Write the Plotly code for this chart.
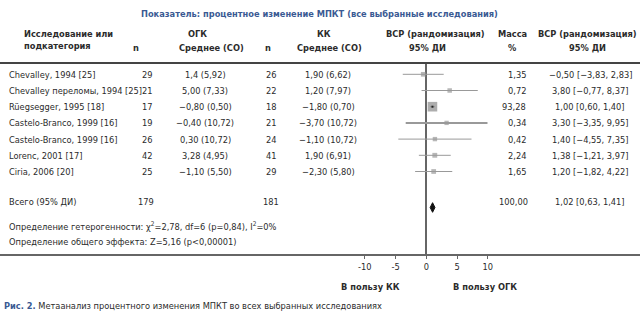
import plotly.graph_objects as go

W, H = 640, 322

# ---------------- data ----------------
studies = ["Chevalley, 1994 [25]", "Chevalley переломы, 1994 [25]", "Rüegsegger, 1995 [18]",
           "Castelo-Branco, 1999 [16]", "Castelo-Branco, 1999 [16]", "Lorenc, 2001 [17]", "Ciria, 2006 [20]"]
n_ogk = [29, 21, 17, 19, 26, 42, 25]
mean_ogk = ["1,4 (5,92)", "5,00 (7,33)", "−0,80 (0,50)", "−0,40 (10,72)", "0,30 (10,72)", "3,28 (4,95)", "−1,10 (5,50)"]
n_kk = [26, 22, 18, 21, 24, 41, 29]
mean_kk = ["1,90 (6,62)", "1,20 (7,97)", "−1,80 (0,70)", "−3,70 (10,72)", "−1,10 (10,72)", "1,90 (6,91)", "−2,30 (5,80)"]
md = [-0.50, 3.80, 1.00, 3.30, 1.40, 1.38, 1.20]
ci_lo = [-3.83, -0.77, 0.60, -3.35, -4.55, -1.21, -1.82]
ci_hi = [2.83, 8.37, 1.40, 9.95, 7.35, 3.97, 4.22]
weight = [1.35, 0.72, 93.28, 0.34, 0.42, 2.24, 1.65]

total_n_ogk = 179
total_n_kk = 181
total_md = 1.02
total_lo = 0.63
total_hi = 1.41
total_weight = 100.00

tick_vals = [-10, -5, 0, 5, 10]
tick_text = ["-10", "-5", "0", "5", "10"]

title = "Показатель: процентное изменение МПКТ (все выбранные исследования)"
heterogeneity = "Определение гетерогенности: χ<sup>2</sup>=2,78, df=6 (p=0,84), I<sup>2</sup>=0%"
overall = "Определение общего эффекта: Z=5,16 (p<0,00001)"
favours_left = "В пользу КК"
favours_right = "В пользу ОГК"
caption_label = "Рис. 2."
caption = "Метаанализ процентного изменения МПКТ во всех выбранных исследованиях"

# ---------------- layout helpers ----------------
FONT = "DejaVu Sans Condensed, Liberation Sans, sans-serif"
FS = 9.2
TXT = "#2b2b2b"
BLUE = "#3a5a93"
GRAY = "#999999"


def fmt(v):
    return f"{v:.2f}".replace(".", ",").replace("-", "−")


def px_x(p):
    return p / W


def px_y(p):
    return 1 - p / H


y0, step = 74.3, 16.2          # pixel position of first row, row spacing
plot_top, plot_bottom = 64, 254
zero_px, unit_px = 426.3, 6.15
x_range = [-zero_px / unit_px, (W - zero_px) / unit_px]
y_range = [(plot_bottom - y0) / step, (plot_top - y0) / step]
rows = list(range(len(studies)))
total_row = (202 - y0) / step
diamond_row = (207.5 - y0) / step
dh = 4.8 / step

fig = go.Figure()

# confidence intervals
for i in rows:
    fig.add_trace(go.Scatter(x=[ci_lo[i], ci_hi[i]], y=[i, i], mode="lines",
                             line=dict(color=GRAY, width=2 if ci_hi[i] - ci_lo[i] > 13 else 1),
                             hoverinfo="skip", showlegend=False))
# boxes
fig.add_trace(go.Scatter(x=md, y=rows, mode="markers",
                         marker=dict(symbol="square", color=["#8a8a8a" if w > 50 else GRAY for w in weight],
                                     size=[4 + 0.58 * w ** 0.5 for w in weight], line=dict(width=0)),
                         hoverinfo="skip", showlegend=False))
fig.add_trace(go.Scatter(x=[md[i] for i in rows if weight[i] > 50], y=[i for i in rows if weight[i] > 50],
                         mode="markers", marker=dict(symbol="square", color="#222", size=2),
                         hoverinfo="skip", showlegend=False))
# total diamond
fig.add_trace(go.Scatter(x=[total_lo, total_md, total_hi, total_md, total_lo],
                         y=[diamond_row, diamond_row - dh, diamond_row, diamond_row + dh, diamond_row],
                         mode="lines", fill="toself", fillcolor="#111", line=dict(color="#111", width=1),
                         hoverinfo="skip", showlegend=False))

ann = []


def add(text, x, y, yref="paper", anchor="center", size=FS, bold=False, color=TXT):
    ann.append(dict(text=f"<b>{text}</b>" if bold else text, x=x, y=y, xref="paper", yref=yref,
                    xanchor=anchor, yanchor="middle", showarrow=False,
                    font=dict(family=FONT, size=size, color=color)))


# title
add(title, px_x(319), px_y(14), size=FS, bold=True, color=BLUE)
# header
add("Исследование или", px_x(22), px_y(33), anchor="left", bold=True)
add("подкатегория", px_x(22), px_y(46), anchor="left", bold=True)
add("ОГК", px_x(197), px_y(33), bold=True)
add("n", px_x(136), px_y(47), bold=True)
add("Среднее (СО)", px_x(211), px_y(47), bold=True)
add("КК", px_x(324), px_y(33), bold=True)
add("n", px_x(268), px_y(47), bold=True)
add("Среднее (СО)", px_x(329), px_y(47), bold=True)
add("ВСР (рандомизация)", px_x(435), px_y(33), bold=True)
add("95% ДИ", px_x(427.5), px_y(47), bold=True)
add("Масса", px_x(512.5), px_y(33), bold=True)
add("%", px_x(512.5), px_y(47), bold=True)
add("ВСР (рандомизация)", px_x(587), px_y(33), bold=True)
add("95% ДИ", px_x(587.5), px_y(47), bold=True)

# rows
for i in rows:
    add(studies[i], px_x(7), i, yref="y", anchor="left")
    add(str(n_ogk[i]), px_x(147), i, yref="y")
    add(mean_ogk[i], px_x(205), i, yref="y")
    add(str(n_kk[i]), px_x(271), i, yref="y")
    add(mean_kk[i], px_x(328), i, yref="y")
    add(fmt(weight[i]), px_x(528), i, yref="y", anchor="right")
    add(f"{fmt(md[i])} [{fmt(ci_lo[i])}, {fmt(ci_hi[i])}]", px_x(590), i, yref="y")

# total
add("Всего (95% ДИ)", px_x(7), total_row, yref="y", anchor="left")
add(str(total_n_ogk), px_x(146), total_row, yref="y")
add(str(total_n_kk), px_x(271), total_row, yref="y")
add(fmt(total_weight), px_x(530), total_row, yref="y", anchor="right")
add(f"{fmt(total_md)} [{fmt(total_lo)}, {fmt(total_hi)}]", px_x(590), total_row, yref="y")
add(heterogeneity, px_x(7), px_y(225.5), anchor="left")
add(overall, px_x(7), px_y(241), anchor="left")

# favours labels
add(favours_left, px_x(370.5), px_y(286), bold=True)
add(favours_right, px_x(484.5), px_y(286), bold=True)

# caption
add(f"<span style='color:{BLUE}'><b>{caption_label}</b></span> {caption}", px_x(2), px_y(305),
    anchor="left")

fig.update_layout(
    width=W, height=H, margin=dict(l=0, r=0, t=0, b=0),
    paper_bgcolor="white", plot_bgcolor="white",
    annotations=ann,
    shapes=[dict(type="line", xref="paper", yref="paper", x0=0, x1=1, y0=px_y(63), y1=px_y(63),
                 line=dict(color="#444", width=2))],
    xaxis=dict(domain=[0, 1], range=x_range, showgrid=False, zeroline=True, zerolinecolor="#666",
               zerolinewidth=1.5, showline=True, linecolor="#666", linewidth=1.5, ticks="outside",
               ticklen=3, tickcolor="#666", tickwidth=1, tickvals=tick_vals, ticktext=tick_text,
               tickfont=dict(family=FONT, size=FS, color=TXT), fixedrange=True),
    yaxis=dict(domain=[px_y(plot_bottom), px_y(plot_top)], range=y_range, visible=False,
               showgrid=False, zeroline=False, fixedrange=True),
    showlegend=False,
)

fig.write_html("out.html")
